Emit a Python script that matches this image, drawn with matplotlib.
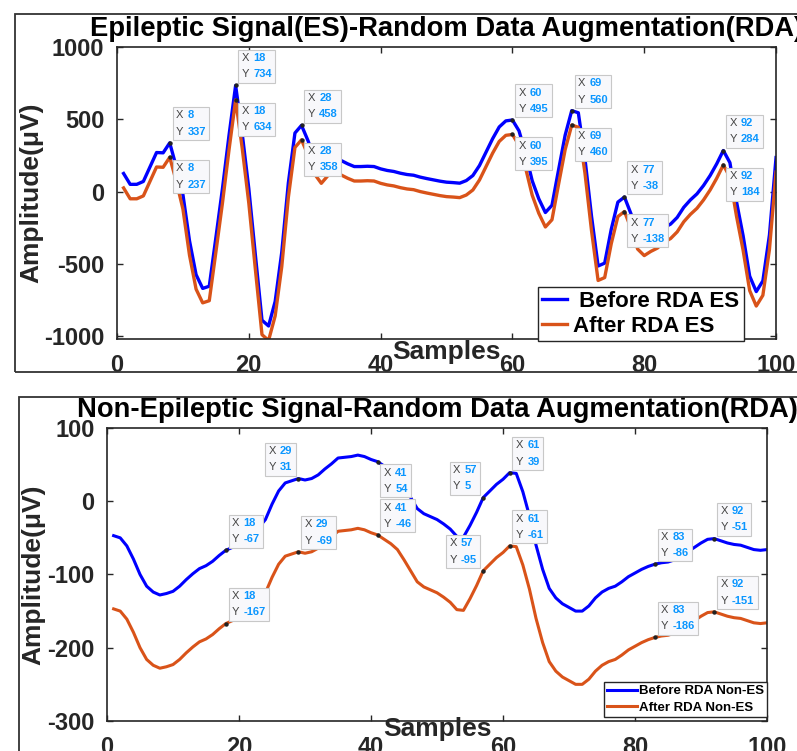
import numpy as np
import matplotlib
matplotlib.use('Agg')
import matplotlib.pyplot as plt
from matplotlib.patches import Rectangle
from matplotlib.offsetbox import TextArea, HPacker, VPacker, AnnotationBbox

plt.rcParams['font.family'] = ['Liberation Sans', 'DejaVu Sans']
plt.rcParams['axes.unicode_minus'] = False

samples = np.arange(1, 101)

# Epileptic signal, before / after random data augmentation
es_before = [125, 50, 50, 70, 170, 270, 268, 337, 170, -20,
             -340, -575, -670, -655, -320, 20, 390, 734, 400, 20,
             -440, -890, -930, -760, -420, 60, 405, 458, 350, 220,
             157, 210, 262, 215, 192, 173, 173, 175, 173, 157,
             146, 139, 127, 118, 113, 100, 90, 81, 72, 65,
             62, 58, 76, 111, 180, 273, 366, 447, 489, 495,
             420, 262, 75, -50, -145, -95, 150, 390, 560, 545,
             230, -170, -515, -495, -260, -73, -38, -155, -298, -343,
             -314, -291, -250, -225, -179, -109, -58, -16, 42, 111,
             192, 284, 200, -70, -305, -585, -692, -618, -300, 235]
es_after = [25, -50, -50, -30, 70, 170, 168, 237, 70, -120,
            -440, -675, -770, -755, -420, -80, 290, 634, 300, -80,
            -540, -990, -1030, -860, -520, -40, 305, 358, 250, 120,
            57, 110, 162, 115, 92, 73, 73, 75, 73, 57,
            46, 39, 27, 18, 13, 0, -10, -19, -28, -35,
            -38, -42, -24, 11, 80, 173, 266, 347, 389, 395,
            320, 162, -25, -150, -245, -195, 50, 290, 460, 445,
            130, -270, -615, -595, -360, -173, -138, -255, -398, -443,
            -414, -391, -350, -325, -279, -209, -158, -116, -58, 11,
            92, 184, 100, -170, -405, -685, -792, -718, -400, 135]

# Non-epileptic signal, before / after
nes_before = [-47, -50, -61, -79, -100, -116, -124, -128, -126, -123,
              -116, -107, -99, -92, -88, -82, -74, -67, -63, -58,
              -52, -45, -36, -25, -4, 14, 25, 28, 31, 29,
              31, 36, 44, 51, 59, 60, 61, 63, 61, 57,
              54, 48, 42, 34, 20, 5, -10, -17, -21, -25,
              -31, -38, -48, -49, -33, -15, 5, 14, 23, 30,
              39, 38, 13, -20, -60, -93, -119, -132, -140, -145,
              -150, -150, -143, -132, -124, -119, -116, -110, -103, -98,
              -93, -89, -86, -84, -83, -80, -75, -69, -63, -57,
              -52, -51, -54, -57, -59, -60, -63, -66, -67, -66]
nes_after = [-147, -150, -161, -179, -200, -216, -224, -228, -226, -223,
             -216, -207, -199, -192, -188, -182, -174, -167, -163, -158,
             -152, -145, -136, -125, -104, -86, -75, -72, -69, -71,
             -69, -64, -56, -49, -41, -40, -39, -37, -39, -43,
             -46, -52, -58, -66, -80, -95, -110, -117, -121, -125,
             -131, -138, -148, -149, -133, -115, -95, -86, -77, -70,
             -61, -62, -87, -120, -160, -193, -219, -232, -240, -245,
             -250, -250, -243, -232, -224, -219, -216, -210, -203, -198,
             -193, -189, -186, -184, -183, -180, -175, -169, -163, -157,
             -152, -151, -154, -157, -159, -160, -163, -166, -167, -166]

# datatips: (sample, which series, placement)
es_tips = [(8, 'b', 'ur'), (8, 'a', 'dr'), (18, 'b', 'ur'), (18, 'a', 'dr'),
           (28, 'b', 'ur'), (28, 'a', 'dr'), (60, 'b', 'ur'), (60, 'a', 'dr'),
           (69, 'b', 'ur'), (69, 'a', 'dr'), (77, 'b', 'ur'), (77, 'a', 'dr'),
           (92, 'b', 'ur'), (92, 'a', 'dr')]
nes_tips = [(18, 'b', 'ur'), (18, 'a', 'ur'), (29, 'b', 'ul'), (29, 'a', 'ur'),
            (41, 'b', 'dr'), (41, 'a', 'ur'), (57, 'b', 'ul'), (57, 'a', 'ul'),
            (61, 'b', 'ur'), (61, 'a', 'ur'), (83, 'b', 'ur'), (83, 'a', 'ur'),
            (92, 'b', 'ur'), (92, 'a', 'ur')]

BLUE = '#0000ff'
ORANGE = '#d95319'
DARK = '#262626'
TIP_FS = 8
TIP_PAD = 0.55


def add_tip(ax, x, y, where):
    rows = []
    for lab, val in (('X', x), ('Y', y)):
        rows.append(HPacker(children=[
            TextArea(lab, textprops=dict(color='#444444', fontsize=TIP_FS)),
            TextArea(str(val), textprops=dict(color='#0a96ff', fontsize=TIP_FS, fontweight='bold'))],
            sep=3, pad=0, align='baseline'))
    box = VPacker(children=rows, sep=4.5, pad=0, align='left')
    off = TIP_PAD * TIP_FS
    align, xyoff = {'ur': ((0, 0), (off, off)),
                    'dr': ((0, 1), (off, -off)),
                    'ul': ((1, 0), (-off, off))}[where]
    ab = AnnotationBbox(box, (x, y), xybox=xyoff, boxcoords='offset points',
                        box_alignment=align, pad=TIP_PAD, fontsize=TIP_FS, frameon=True,
                        bboxprops=dict(boxstyle='square', fc='#f8f8fb', ec='#c8c8c8', lw=0.8),
                        zorder=6)
    ax.add_artist(ab)
    ax.plot(x, y, 'o', ms=2.2, color='#222222', zorder=7)


def style_axes(ax, yticks, ylim):
    ax.set_xlim(0, 100)
    ax.set_ylim(*ylim)
    ax.set_xticks([0, 20, 40, 60, 80, 100])
    ax.set_yticks(yticks)
    ax.tick_params(direction='in', length=4.5, width=1, colors=DARK, labelsize=17,
                   top=True, right=True, pad=9)
    ax.tick_params(axis='x', pad=11)
    for lab in ax.get_xticklabels() + ax.get_yticklabels():
        lab.set_fontweight('bold')
    for s in ax.spines.values():
        s.set_color(DARK)
        s.set_linewidth(1.2)


fig = plt.figure(figsize=(7.97, 7.51), dpi=100)

# top panel
ax1 = fig.add_axes([0.1468, 0.5486, 0.8269, 0.3888])
ax1.plot(samples, es_before, color=BLUE, lw=2.4, label=' Before RDA ES')
ax1.plot(samples, es_after, color=ORANGE, lw=2.4, label='After RDA ES')
style_axes(ax1, [-1000, -500, 0, 500, 1000], (-1020, 1000))
ax1.set_title('Epileptic Signal(ES)-Random Data Augmentation(RDA)', fontsize=19.7,
              fontweight='bold', pad=8)
ax1.set_xlabel('Samples', fontsize=19, fontweight='bold', color=DARK)
ax1.xaxis.set_label_coords(0.5, -0.005)
ax1.set_ylabel('Amplitude(\u03bcV)', fontsize=19, fontweight='bold', color=DARK)
ax1.yaxis.set_label_coords(-0.112, 0.5)
ax1.legend(loc='lower right', bbox_to_anchor=(0.951, -0.007), borderaxespad=0,
           prop=dict(weight='bold', size=16), handlelength=1.1,
           handletextpad=0.3, labelspacing=0.15, borderpad=0.2, fancybox=False,
           framealpha=1, edgecolor=DARK)
for x, s, w in es_tips:
    series = es_before if s == 'b' else es_after
    add_tip(ax1, x, series[x - 1], w)

# bottom panel
ax2 = fig.add_axes([0.1343, 0.04, 0.8281, 0.3901])
ax2.plot(samples, nes_before, color=BLUE, lw=2.2, label='Before RDA Non-ES')
ax2.plot(samples, nes_after, color=ORANGE, lw=2.2, label='After RDA Non-ES')
style_axes(ax2, [-300, -200, -100, 0, 100], (-300, 100))
ax2.set_title('Non-Epileptic Signal-Random Data Augmentation(RDA)', fontsize=19.7,
              fontweight='bold', pad=8)
ax2.set_xlabel('Samples', fontsize=19, fontweight='bold', color=DARK)
ax2.xaxis.set_label_coords(0.5, 0.014)
ax2.set_ylabel('Amplitude(\u03bcV)', fontsize=19, fontweight='bold', color=DARK)
ax2.yaxis.set_label_coords(-0.094, 0.5)
ax2.legend(loc='lower right', bbox_to_anchor=(1.0, 0.0137), borderaxespad=0,
           prop=dict(weight='bold', size=9.5), handlelength=2.3,
           handletextpad=0.1, labelspacing=0.3, borderpad=0.25, fancybox=False,
           framealpha=1, edgecolor=DARK)
for x, s, w in nes_tips:
    series = nes_before if s == 'b' else nes_after
    add_tip(ax2, x, series[x - 1], w)

# outer frames around each panel
fig.add_artist(Rectangle((15 / 797, 1 - 372 / 751), 1.0, 358 / 751, transform=fig.transFigure,
                         fill=False, ec='#333333', lw=1.3, zorder=3))
fig.add_artist(Rectangle((19 / 797, -0.1), 1.0, 0.1 + 1 - 397 / 751, transform=fig.transFigure,
                         fill=False, ec='#333333', lw=1.3, zorder=3))

fig.savefig('out.png', dpi=100)
